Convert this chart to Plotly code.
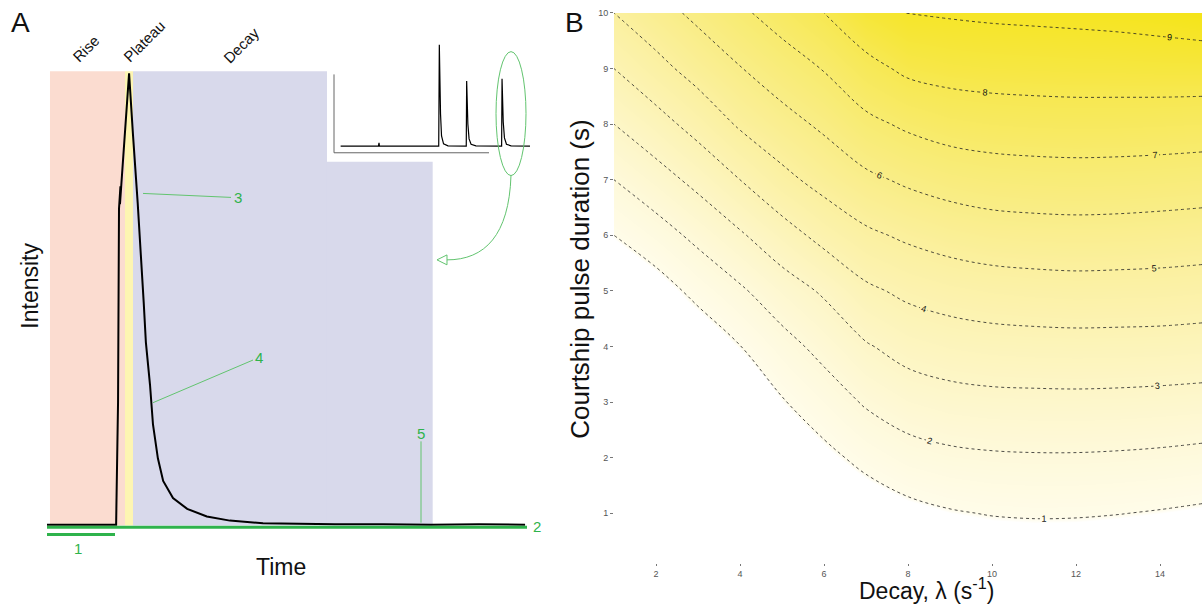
import plotly.graph_objects as go

W, H = 1202, 605
FONT = "Liberation Sans, Arial, sans-serif"

# ---------------- Panel B data ----------------
decay_rates = [1, 2, 3, 4, 5, 6, 7, 8, 9, 10, 11, 12, 13, 14, 15]
pulse_durations = [0.1, 1, 2, 3, 4, 5, 6, 7, 8, 9, 10]
# one column per decay rate, values going up the pulse-duration axis
surface_by_decay = [
    [0, 0, 0, 0, 0, 0, 1, 2, 3, 4, 5],
    [0, 0, 0, 0, 0, 0.56, 1.59, 2.61, 3.64, 4.70, 5.63],
    [0, 0, 0, 0, 0.32, 1.26, 2.23, 3.26, 4.35, 5.37, 6.22],
    [0, 0, 0, 0.10, 0.98, 1.87, 2.89, 4.00, 5.12, 5.96, 6.83],
    [0, 0, 0.19, 0.93, 1.67, 2.54, 3.60, 4.75, 5.66, 6.52, 7.41],
    [0, 0, 0.75, 1.51, 2.28, 3.12, 4.29, 5.32, 6.17, 7.05, 8.00],
    [0, 0.41, 1.25, 2.10, 2.92, 3.83, 4.83, 5.81, 6.78, 7.72, 8.67],
    [0, 0.73, 1.63, 2.49, 3.33, 4.19, 5.15, 6.15, 7.15, 8.18, 9.03],
    [0.14, 0.93, 1.81, 2.68, 3.52, 4.40, 5.39, 6.39, 7.40, 8.33, 9.08],
    [0.28, 1.04, 1.89, 2.76, 3.62, 4.53, 5.55, 6.53, 7.51, 8.39, 9.14],
    [0.33, 1.08, 1.92, 2.78, 3.66, 4.60, 5.61, 6.59, 7.56, 8.42, 9.18],
    [0.31, 1.07, 1.92, 2.79, 3.68, 4.64, 5.64, 6.62, 7.58, 8.45, 9.22],
    [0.23, 1.02, 1.89, 2.77, 3.67, 4.62, 5.62, 6.60, 7.57, 8.46, 9.28],
    [0.13, 0.94, 1.84, 2.73, 3.65, 4.60, 5.57, 6.56, 7.54, 8.49, 9.37],
    [0.02, 0.84, 1.76, 2.68, 3.60, 4.54, 5.51, 6.50, 7.50, 8.50, 9.50],
]
decay_ticks = [2, 4, 6, 8, 10, 12, 14]
duration_ticks = [1, 2, 3, 4, 5, 6, 7, 8, 9, 10]

# ---------------- Panel A data (schematic pulse) ----------------
pulse_time = [0, 14.4, 14.8, 15.0, 15.3, 15.2, 15.5, 17.1, 17.9, 18.9, 20.15, 20.6,
              21.46, 22.08, 23.1, 24.2, 26.25, 29.2, 33.3, 38.1, 45.0, 50.6, 60,
              70, 80, 90, 99.6]
pulse_intensity = [0, 0, 0.27, 0.70, 0.75, 0.71, 0.756, 1.0, 0.866, 0.712, 0.492,
                   0.404, 0.31, 0.222, 0.147, 0.097, 0.059, 0.035, 0.018, 0.009,
                   0.003, 0.002, 0.001, 0.001, 0.0, 0.001, 0.0]

inset_time = [3.3, 22.1, 22.4, 22.6, 52.1, 52.4, 53.0, 53.5, 54.5, 56.7, 65.8, 66.0,
              66.6, 67.2, 68.2, 70.6, 83.4, 83.6, 84.2, 84.8, 85.8, 88.1, 97.5]
inset_intensity = [0, 0, 0.032, 0, 0, 1.0, 0.316, 0.10, 0.022, 0.003, 0, 0.641,
                   0.218, 0.071, 0.018, 0.003, 0, 0.665, 0.238, 0.081, 0.018,
                   0.003, 0]

phase_names = ["Rise", "Plateau", "Decay"]
phase_edges = [0.62, 16.25, 17.92, 80.35]   # time units
phase_colors = ["#fbdcd0", "#fdf5b2", "#d8d9eb"]
inset_cut_time = 58.33
inset_cut_intensity = 0.804
band_top = 1.005

# pixel anchors of panel A's hidden axes
T0_PX, PX_PER_T = 47.0, 4.8
I0_PX, PX_PER_I = 524.0, 455.0


def paper(x, y):
    return x / W, 1 - y / H


GREEN = "#2fb34c"
GREEN_LIGHT = "#62c46f"

fig = go.Figure()

# Panel B contour
z_rows = [list(r) for r in zip(*surface_by_decay)]
zmax = 9.6
color_stops = [(0, "#ffffff"), (0.93, "#ffffff"), (1, "#fffce9"), (2, "#fef9da"),
               (3, "#fdf6c7"), (4, "#fcf3b3"), (5, "#fbf09f"), (6, "#f9ed87"),
               (7, "#f8eb6e"), (8, "#f7e852"), (9.6, "#f5e414")]
fig.add_trace(go.Contour(
    x=decay_rates, y=pulse_durations, z=z_rows,
    xaxis="x", yaxis="y",
    colorscale=[[v / zmax, c] for v, c in color_stops],
    zmin=0, zmax=zmax, zauto=False,
    showscale=False,
    contours=dict(start=1, end=9, size=1, coloring="heatmap", showlabels=True,
                  labelfont=dict(size=9, color="#111", family=FONT)),
    line=dict(color="#222", width=0.8, dash="dot"),
    hoverinfo="skip",
))

# Panel A pulse
fig.add_trace(go.Scatter(x=pulse_time, y=pulse_intensity, xaxis="x2", yaxis="y2",
                         mode="lines", line=dict(color="black", width=2),
                         hoverinfo="skip", showlegend=False))
# inset trace
fig.add_trace(go.Scatter(x=inset_time, y=inset_intensity, xaxis="x3", yaxis="y3",
                         mode="lines", line=dict(color="black", width=1.2),
                         hoverinfo="skip", showlegend=False))

shapes = []
# phase bands
for i in range(3):
    x1 = phase_edges[i + 1] if i < 2 else inset_cut_time
    shapes.append(dict(type="rect", xref="x2", yref="y2", x0=phase_edges[i], x1=x1,
                       y0=-0.002, y1=band_top, fillcolor=phase_colors[i],
                       line=dict(width=0), layer="below"))
shapes.append(dict(type="rect", xref="x2", yref="y2", x0=inset_cut_time, x1=phase_edges[3],
                   y0=-0.002, y1=inset_cut_intensity, fillcolor=phase_colors[2],
                   line=dict(width=0), layer="below"))


def pline(x0, y0, x1, y1, color, width):
    a = paper(x0, y0)
    b = paper(x1, y1)
    return dict(type="line", xref="paper", yref="paper", x0=a[0], y0=a[1], x1=b[0], y1=b[1],
                line=dict(color=color, width=width))


# green marker lines
shapes.append(pline(47, 526.5, 527, 526.5, GREEN, 3))
shapes.append(pline(47, 534, 115, 534, GREEN, 3))
shapes.append(pline(143, 190, 231, 194, GREEN_LIGHT, 1))
shapes.append(pline(153, 401, 253, 358, GREEN_LIGHT, 1))
shapes.append(pline(421, 440, 421, 522, GREEN_LIGHT, 1))

# inset axes (L shape)
shapes.append(pline(334, 70, 334, 149, "#666666", 1))
shapes.append(pline(334, 149, 489, 149, "#666666", 1))

# ellipse around last inset peak
e0 = paper(496, 47)
e1 = paper(526, 172)
shapes.append(dict(type="circle", xref="paper", yref="paper", x0=e0[0], y0=e1[1],
                   x1=e1[0], y1=e0[1], line=dict(color=GREEN_LIGHT, width=1)))


def ppath(points, cmd):
    parts = []
    for c, pts in zip(cmd, points):
        coords = " ".join("%.5f,%.5f" % paper(*p) for p in pts)
        parts.append(c + " " + coords)
    return " ".join(parts)


curve = ppath([[(511, 172)], [(509, 232), (485, 257), (447, 257)]], ["M", "C"])
shapes.append(dict(type="path", xref="paper", yref="paper", path=curve,
                   line=dict(color=GREEN_LIGHT, width=1)))
head = ppath([[(437, 257)], [(447, 252)], [(447, 262)]], ["M", "L", "L"]) + " Z"
shapes.append(dict(type="path", xref="paper", yref="paper", path=head,
                   fillcolor="rgba(255,255,255,0)", line=dict(color=GREEN_LIGHT, width=1)))

annotations = []


def ptext(x, y, text, size, color="#111", angle=0, xanchor="center"):
    px, py = paper(x, y)
    annotations.append(dict(xref="paper", yref="paper", x=px, y=py, text=text,
                            showarrow=False, textangle=angle, xanchor=xanchor,
                            yanchor="middle", font=dict(family=FONT, size=size, color=color)))


ptext(21, 18, "A", 28)
ptext(574, 18, "B", 28)
phase_label_px = [(86, 44), (144, 37), (241, 41)]
for name, (lx, ly) in zip(phase_names, phase_label_px):
    ptext(lx, ly, name, 15, angle=-45)
ptext(30, 283, "Intensity", 23, angle=-90)
ptext(281, 567, "Time", 23)
marker_labels = [("1", 78, 548), ("2", 537, 526), ("3", 238, 194), ("4", 259, 355), ("5", 421, 432)]
for t, lx, ly in marker_labels:
    ptext(lx, ly, t, 15, color=GREEN)
ptext(580, 277, "Courtship pulse duration (s)", 26, angle=-90)
ptext(926, 589, "Decay, λ (s<sup>-1</sup>)", 23)

hidden = dict(visible=False, showgrid=False, zeroline=False, fixedrange=True)

fig.update_layout(
    width=W, height=H,
    margin=dict(l=0, r=0, t=0, b=0),
    paper_bgcolor="white", plot_bgcolor="rgba(0,0,0,0)",
    showlegend=False,
    font=dict(family=FONT),
    xaxis=dict(domain=[614 / W, 1.0], range=[1, 15], tickvals=decay_ticks,
               ticks="outside", ticklen=2, tickwidth=1, tickcolor="#777",
               tickfont=dict(size=9, color="#555"), showgrid=False, zeroline=False,
               showline=False, anchor="y"),
    yaxis=dict(domain=[1 - 563 / H, 1 - 8 / H], range=[0.1, 10], tickvals=duration_ticks,
               ticks="outside", ticklen=3, tickwidth=1, tickcolor="#777",
               tickfont=dict(size=9, color="#555"), showgrid=False, zeroline=False,
               showline=False, anchor="x"),
    xaxis2=dict(domain=[0, 601 / W], range=[(0 - T0_PX) / PX_PER_T, (601 - T0_PX) / PX_PER_T],
                anchor="y2", **hidden),
    yaxis2=dict(domain=[0, 1], range=[(I0_PX - H) / PX_PER_I, I0_PX / PX_PER_I],
                anchor="x2", **hidden),
    xaxis3=dict(domain=[334 / W, 535 / W], range=[0, 100], anchor="y3", **hidden),
    yaxis3=dict(domain=[1 - 149 / H, 1 - 35 / H],
                range=[(142.3 - 149) / 102.3, (142.3 - 35) / 102.3], anchor="x3", **hidden),
    shapes=shapes,
    annotations=annotations,
)

fig.write_html("out.html", config={"displayModeBar": False},
               post_script="document.body.style.margin='0';document.body.style.overflow='hidden';")
